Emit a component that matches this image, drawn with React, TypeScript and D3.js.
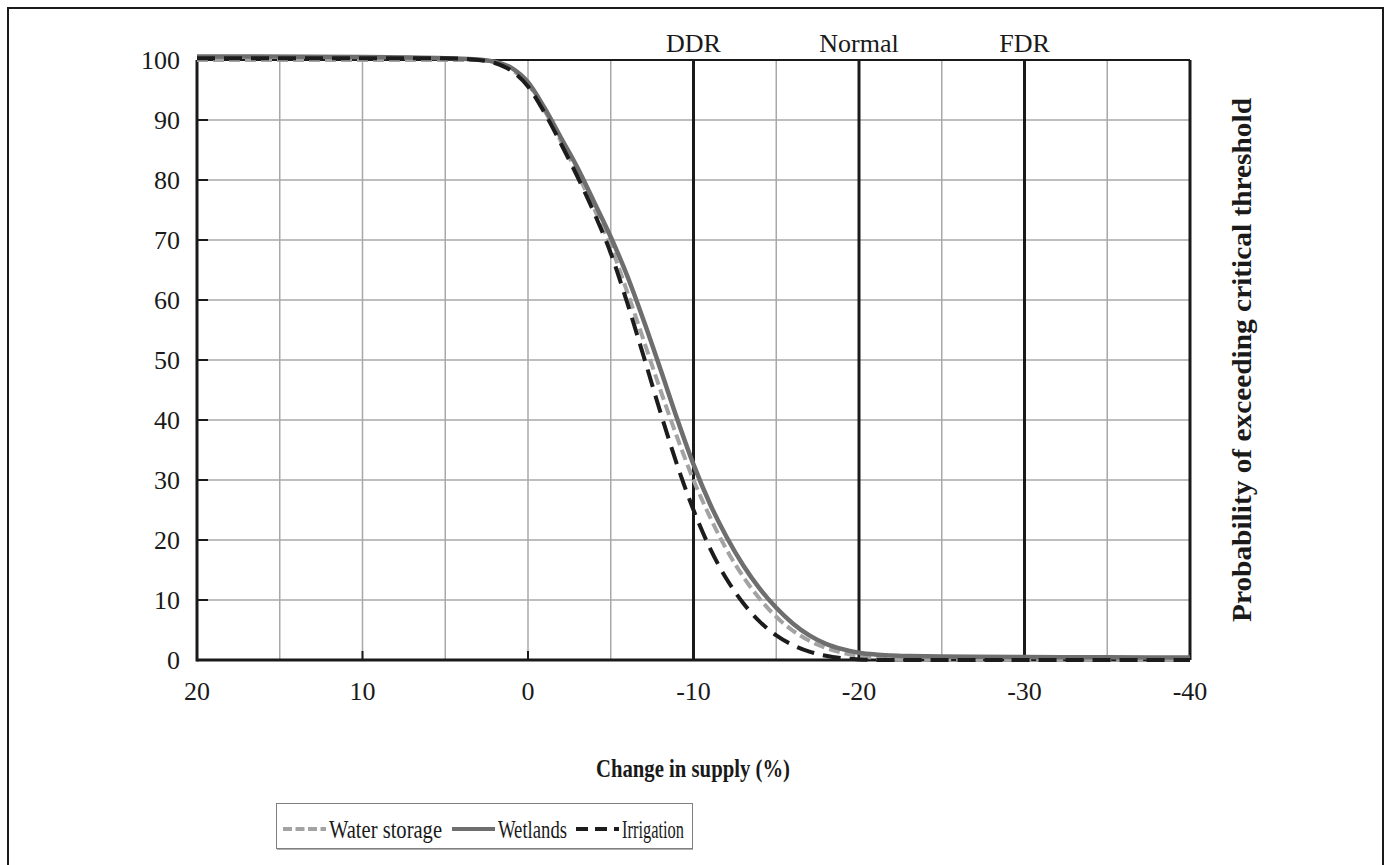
import React from "react";
import * as d3 from "d3";

const changes = [20, 10, 5, 3, 2, 1, 0, -1, -2, -3, -4, -5, -6, -7, -8, -9, -10, -11, -12, -13, -14, -15, -16, -17, -18, -19, -20, -21, -22, -23, -25, -30, -35, -40];
const waterStorage = [100, 100, 100, 100, 99.6, 98.4, 96, 91.6, 86.4, 81, 75.2, 69, 61.3, 53.2, 45, 37.2, 30, 23.8, 18.4, 13.9, 10.2, 7.2, 4.9, 3.2, 2.0, 1.2, 0.7, 0.35, 0.2, 0.15, 0.1, 0.1, 0.1, 0.1];
const wetlands = [100.6, 100.5, 100.3, 100.1, 99.7, 98.7, 96.3, 92, 87, 82, 76.3, 70.5, 64, 56.5, 48.5, 40.3, 32.6, 26, 20.5, 15.8, 11.9, 8.7, 6.1, 4.1, 2.7, 1.8, 1.2, 0.9, 0.75, 0.65, 0.6, 0.5, 0.45, 0.4];
const irrigation = [100.3, 100.3, 100.3, 100, 99.5, 98.2, 95.6, 91.2, 86, 80.5, 74.5, 67.8, 59.5, 50.5, 41.3, 32.6, 25, 18.6, 13.5, 9.5, 6.4, 4.1, 2.5, 1.4, 0.7, 0.3, 0.1, 0, 0, 0, 0, 0, 0, 0];

const xTicks = [20, 10, 0, -10, -20, -30, -40];
const xGrid = [15, 10, 5, 0, -5, -15, -25, -35];
const yTicks = [0, 10, 20, 30, 40, 50, 60, 70, 80, 90, 100];
const thresholds = [
  { value: -10, label: "DDR" },
  { value: -20, label: "Normal" },
  { value: -30, label: "FDR" },
];
const seriesNames = ["Water storage", "Wetlands", "Irrigation"];

export default function App() {
  const x = d3.scaleLinear().domain([20, -40]).range([197, 1190]);
  const y = d3.scaleLinear().domain([0, 100]).range([660, 60]);
  const font = "'Liberation Serif', 'Times New Roman', serif";

  const mk = (vals: number[]) =>
    d3
      .line<number>()
      .x((_, i) => x(changes[i]))
      .y((v) => y(v))
      .curve(d3.curveMonotoneX)(vals) || "";

  const series = [
    { name: seriesNames[0], vals: waterStorage, color: "#a3a3a3", dash: "11,5", ldash: "9,3.5", w: 4, tl: 113 },
    { name: seriesNames[1], vals: wetlands, color: "#6e6e6e", dash: "", ldash: "", w: 4.5, tl: 69 },
    { name: seriesNames[2], vals: irrigation, color: "#1c1c1c", dash: "18,9", ldash: "12,7", w: 4, tl: 62 },
  ];

  const legendX = [283, 452, 576];

  return (
    <svg
      width={1385}
      height={865}
      style={{ position: "absolute", left: 0, top: 0, background: "#fff" }}
      fontFamily={font}
    >
      <rect x={0} y={0} width={1385} height={865} fill="#fff" />
      <rect x={8} y={8} width={1375} height={880} fill="none" stroke="#1a1a1a" strokeWidth={2} />

      {/* grid */}
      {xGrid.map((g) => (
        <line key={"xg" + g} x1={x(g)} x2={x(g)} y1={y(0)} y2={y(100)} stroke="#a8a8a8" strokeWidth={1.5} />
      ))}
      {yTicks.filter((t) => t > 0 && t < 100).map((t) => (
        <line key={"yg" + t} x1={x(20)} x2={x(-40)} y1={y(t)} y2={y(t)} stroke="#a8a8a8" strokeWidth={1.5} />
      ))}

      {/* frame */}
      <line x1={x(20)} x2={x(-40)} y1={y(100)} y2={y(100)} stroke="#1a1a1a" strokeWidth={2} />
      <line x1={x(-40)} x2={x(-40)} y1={y(100)} y2={y(0)} stroke="#1a1a1a" strokeWidth={3} />

      {/* threshold lines */}
      {thresholds.map((t) => (
        <g key={t.label}>
          <line x1={x(t.value)} x2={x(t.value)} y1={y(100)} y2={y(0)} stroke="#1a1a1a" strokeWidth={3} />
          <text x={x(t.value)} y={52} textAnchor="middle" fontSize={26} fill="#1a1a1a">
            {t.label}
          </text>
        </g>
      ))}

      {/* axes */}
      <line x1={x(20)} x2={x(-40)} y1={y(0)} y2={y(0)} stroke="#1a1a1a" strokeWidth={3} />
      <line x1={x(20)} x2={x(20)} y1={y(100)} y2={y(0) + 1.5} stroke="#1a1a1a" strokeWidth={3} />
      {yTicks.map((t) => (
        <g key={"yt" + t}>
          <line x1={x(20)} x2={x(20) + 11} y1={y(t)} y2={y(t)} stroke="#1a1a1a" strokeWidth={2} />
          <text x={180} y={y(t) + 9} textAnchor="end" fontSize={26} fill="#1a1a1a">
            {t}
          </text>
        </g>
      ))}
      {xTicks.map((t) => (
        <g key={"xt" + t}>
          <line x1={x(t)} x2={x(t)} y1={y(0)} y2={y(0) - 9} stroke="#1a1a1a" strokeWidth={2} />
          <text x={x(t)} y={700} textAnchor="middle" fontSize={26} fill="#1a1a1a">
            {t}
          </text>
        </g>
      ))}

      {/* series */}
      {series.map((s) => (
        <path
          key={s.name}
          d={mk(s.vals)}
          fill="none"
          stroke={s.color}
          strokeWidth={s.w}
          strokeDasharray={s.dash || undefined}
        />
      ))}

      {/* titles */}
      <text
        x={693}
        y={777}
        textAnchor="middle"
        fontSize={26}
        fontWeight="bold"
        fill="#1a1a1a"
        textLength={194}
        lengthAdjust="spacingAndGlyphs"
      >
        Change in supply (%)
      </text>
      <text
        transform={`translate(1251, ${y(50)}) rotate(-90)`}
        textAnchor="middle"
        fontSize={28}
        fontWeight="bold"
        fill="#1a1a1a"
        textLength={524}
        lengthAdjust="spacingAndGlyphs"
      >
        Probability of exceeding critical threshold
      </text>

      {/* legend */}
      <rect x={276.5} y={803.5} width={416} height={45} fill="#fff" stroke="#808080" strokeWidth={1} />
      <line x1={277} x2={693} y1={849.5} y2={849.5} stroke="#b0b0b0" strokeWidth={1} />
      {series.map((s, i) => (
        <g key={"lg" + s.name}>
          <line
            x1={legendX[i]}
            x2={legendX[i] + 43}
            y1={829}
            y2={829}
            stroke={s.color}
            strokeWidth={4}
            strokeDasharray={s.ldash || undefined}
          />
          <text
            x={legendX[i] + 46}
            y={838}
            fontSize={26}
            fill="#1a1a1a"
            textLength={s.tl}
            lengthAdjust="spacingAndGlyphs"
          >
            {s.name}
          </text>
        </g>
      ))}
    </svg>
  );
}
